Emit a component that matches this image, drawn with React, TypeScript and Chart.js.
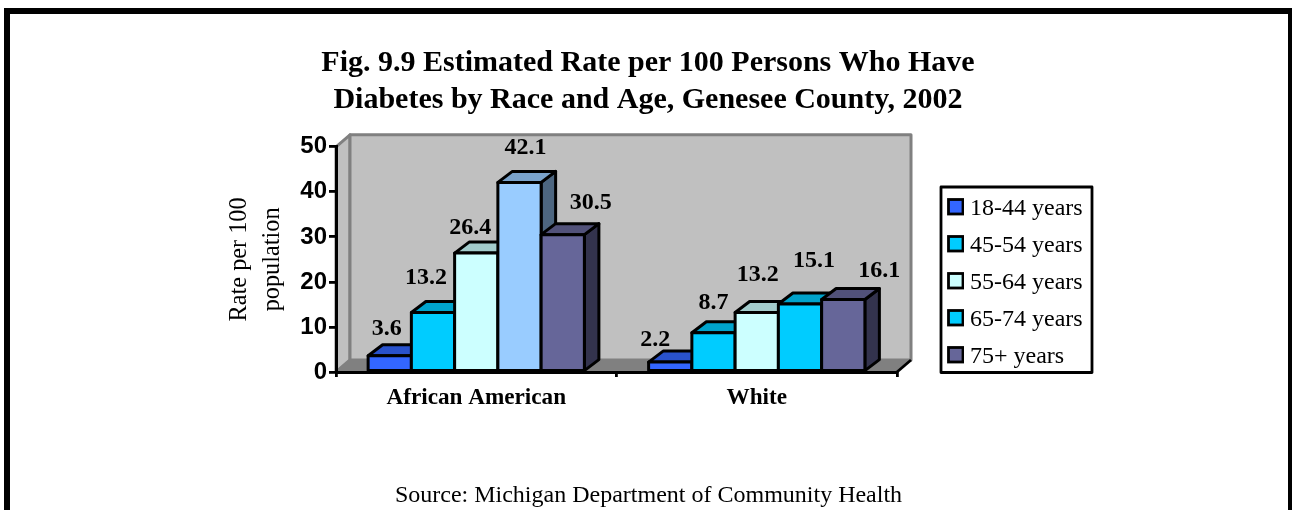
import React, { useEffect, useRef } from "react";
import { Chart, registerables } from "chart.js";

Chart.register(...registerables);

const categories = ["African American", "White"];
const seriesNames = ["18-44 years", "45-54 years", "55-64 years", "65-74 years", "75+ years"];
const age18to44 = [3.6, 2.2];
const age45to54 = [13.2, 8.7];
const age55to64 = [26.4, 13.2];
const age65to74 = [42.1, 15.1];
const age75plus = [30.5, 16.1];
const titleLines = ["Fig. 9.9 Estimated Rate per 100 Persons Who Have", "Diabetes by Race and Age, Genesee County, 2002"];
const yTitleLines = ["Rate per 100", "population"];
const sourceText = "Source: Michigan Department of Community Health";

const barColors = [
  ["#3366FF", "#3366FF"],
  ["#00CCFF", "#00CCFF"],
  ["#CCFFFF", "#CCFFFF"],
  ["#99CCFF", "#00CCFF"],
  ["#666699", "#666699"],
];
const legendColors = ["#3366FF", "#00CCFF", "#CCFFFF", "#00CCFF", "#666699"];
// label nudges [dx, dy] from each bar's top centre, by series then category
const labelNudge = [
  [[-3, -27], [-15, -22]],
  [[-7, -35], [0, -30]],
  [[-6, -25], [1, -38]],
  [[6, -35], [14, -43]],
  [[28, -32], [36, -29]],
];

const SERIF = '"Liberation Serif"';
const SANS = '"Liberation Sans"';
const DX = 14;
const DY = -12;
const BAR_DX = 14.5;
const BAR_DY = -11;

function shade(hex: string, f: number) {
  const n = parseInt(hex.slice(1), 16);
  const c = [(n >> 16) & 255, (n >> 8) & 255, n & 255].map((v) => Math.round(v * f));
  return `rgb(${c[0]},${c[1]},${c[2]})`;
}

function swatch(color: string) {
  const c = document.createElement("canvas");
  c.width = 17;
  c.height = 22;
  const g = c.getContext("2d")!;
  g.fillStyle = color;
  g.fillRect(1, 1, 15, 15);
  g.strokeStyle = "#000";
  g.lineWidth = 2.8;
  g.strokeRect(1.5, 1.5, 14.5, 14.5);
  return c;
}

function poly(ctx: CanvasRenderingContext2D, pts: number[][], fill?: string, stroke?: string, lw = 3) {
  ctx.beginPath();
  pts.forEach((p, i) => (i ? ctx.lineTo(p[0], p[1]) : ctx.moveTo(p[0], p[1])));
  ctx.closePath();
  if (fill) {
    ctx.fillStyle = fill;
    ctx.fill();
  }
  if (stroke) {
    ctx.strokeStyle = stroke;
    ctx.lineWidth = lw;
    ctx.lineJoin = "round";
    ctx.stroke();
  }
}

const scenePlugin = {
  id: "scene",
  afterLayout(chart: any) {
    const t = chart.titleBlock;
    t.left = 4;
    t.right = 1292;
    t.top = 44.5;
    const s = chart.boxes.find((b: any) => b.options && b.options.text === sourceText);
    if (s) {
      s.left = 4;
      s.right = 1293;
      s.top = 481;
    }
    const l = chart.legend;
    l.left = 940;
    l.right = 1090;
    l.top = 184;
    l.bottom = 400;
  },
  beforeDraw(chart: any) {
    const ctx = chart.ctx as CanvasRenderingContext2D;
    const { left, right, top, bottom } = chart.chartArea;
    ctx.save();
    ctx.fillStyle = "#fff";
    ctx.fillRect(0, 0, chart.width, chart.height);
    ctx.strokeStyle = "#000";
    ctx.lineWidth = 6;
    ctx.strokeRect(7, 11, 1284, 520);
    // back wall, side wall, floor
    poly(ctx, [[left, top], [left + DX, top + DY], [left + DX, bottom + DY], [left, bottom]], "#C0C0C0", "#808080");
    poly(ctx, [[left + DX, top + DY], [right + DX, top + DY], [right + DX, bottom + DY], [left + DX, bottom + DY]], "#C0C0C0", "#808080");
    poly(ctx, [[left, bottom], [left + DX, bottom + DY], [right + DX, bottom + DY], [right, bottom]], "#808080");
    ctx.strokeStyle = "#000";
    ctx.lineWidth = 2.8;
    ctx.beginPath();
    ctx.moveTo(right, bottom);
    ctx.lineTo(right + DX, bottom + DY);
    ctx.stroke();
    // legend frame
    ctx.lineWidth = 2.8;
    ctx.strokeRect(941, 187, 151, 185.5);
    ctx.restore();
  },
  afterDatasetsDraw(chart: any) {
    const ctx = chart.ctx as CanvasRenderingContext2D;
    ctx.save();
    categories.forEach((_, c) => {
      chart.data.datasets.forEach((ds: any, d: number) => {
        const el = chart.getDatasetMeta(d).data[c];
        const { x, y, base, width } = el.getProps(["x", "y", "base", "width"], true);
        const l = x - width / 2;
        const r = x + width / 2;
        const color = barColors[d][c];
        poly(ctx, [[r, y], [r + BAR_DX, y + BAR_DY], [r + BAR_DX, base + BAR_DY], [r, base]], shade(color, 0.5), "#000");
        poly(ctx, [[l, y], [l + BAR_DX, y + BAR_DY], [r + BAR_DX, y + BAR_DY], [r, y]], shade(color, 0.8), "#000");
        el.draw(ctx);
        poly(ctx, [[l, y], [r, y], [r, base], [l, base]], undefined, "#000");
      });
    });
    ctx.fillStyle = "#000";
    ctx.font = `bold 24px ${SERIF}`;
    ctx.textAlign = "center";
    ctx.textBaseline = "middle";
    chart.data.datasets.forEach((ds: any, d: number) => {
      categories.forEach((_, c) => {
        const el = chart.getDatasetMeta(d).data[c];
        const { x, y } = el.getProps(["x", "y"], true);
        ctx.fillText(ds.data[c].toFixed(1), x + labelNudge[d][c][0], y + labelNudge[d][c][1]);
      });
    });
    ctx.restore();
  },
};

export default function App() {
  const ref = useRef<HTMLCanvasElement>(null);
  useEffect(() => {
    const series = [age18to44, age45to54, age55to64, age65to74, age75plus];
    const chart = new Chart(ref.current!, {
      type: "bar",
      data: {
        labels: categories,
        datasets: series.map((data, i) => ({
          label: seriesNames[i],
          data,
          backgroundColor: barColors[i],
          borderWidth: 0,
          categoryPercentage: 0.771,
          barPercentage: 1,
        })),
      },
      options: {
        responsive: false,
        animation: false,
        layout: { padding: { left: 210, right: 395, top: 73, bottom: 0 } },
        plugins: {
          tooltip: { enabled: false },
          title: {
            display: true,
            text: titleLines,
            color: "#000",
            font: { family: SERIF, size: 30, weight: "bold", lineHeight: 1.23 },
            padding: 0,
          },
          subtitle: {
            display: true,
            position: "bottom",
            text: sourceText,
            color: "#000",
            font: { family: SERIF, size: 24, weight: "normal", lineHeight: 1.2 },
            padding: 0,
          },
          legend: {
            position: "chartArea",
            align: "start",
            labels: {
              color: "#000",
              font: { family: SERIF, size: 24, lineHeight: 1.2 },
              padding: 13,
              usePointStyle: true,
              pointStyleWidth: 5,
              generateLabels: (c: any) =>
                Chart.defaults.plugins.legend.labels.generateLabels(c).map((it: any, i: number) => ({
                  ...it,
                  pointStyle: swatch(legendColors[i]),
                })),
            },
          },
        },
        scales: {
          x: {
            afterFit: (s: any) => {
              s.height = 109.2;
            },
            grid: { drawOnChartArea: false, color: "#000", tickColor: "#000", tickLength: 5, lineWidth: 2.8 },
            border: { color: "#000", width: 3 },
            ticks: { color: "#000", font: { family: SERIF, size: 23.2, weight: "bold" }, padding: 7, maxRotation: 0 },
          },
          y: {
            min: 0,
            max: 50,
            afterFit: (s: any) => {
              s.width = 126;
            },
            title: {
              display: true,
              text: yTitleLines,
              color: "#000",
              font: { family: SERIF, size: 24.3, weight: "normal", lineHeight: 1.35 },
              padding: { top: 13, bottom: 0 },
            },
            grid: { drawOnChartArea: false, color: "#000", tickColor: "#000", tickLength: 7, lineWidth: 2.8 },
            border: { color: "#000", width: 3 },
            ticks: { color: "#000", stepSize: 10, font: { family: SANS, size: 24, weight: "bold" }, padding: 2 },
          },
        },
      },
      plugins: [scenePlugin],
    } as any);
    return () => chart.destroy();
  }, []);
  return (
    <canvas
      ref={ref}
      width={1292}
      height={510}
      style={{ position: "fixed", left: 0, top: 0, width: 1292, height: 510, display: "block" }}
    />
  );
}
